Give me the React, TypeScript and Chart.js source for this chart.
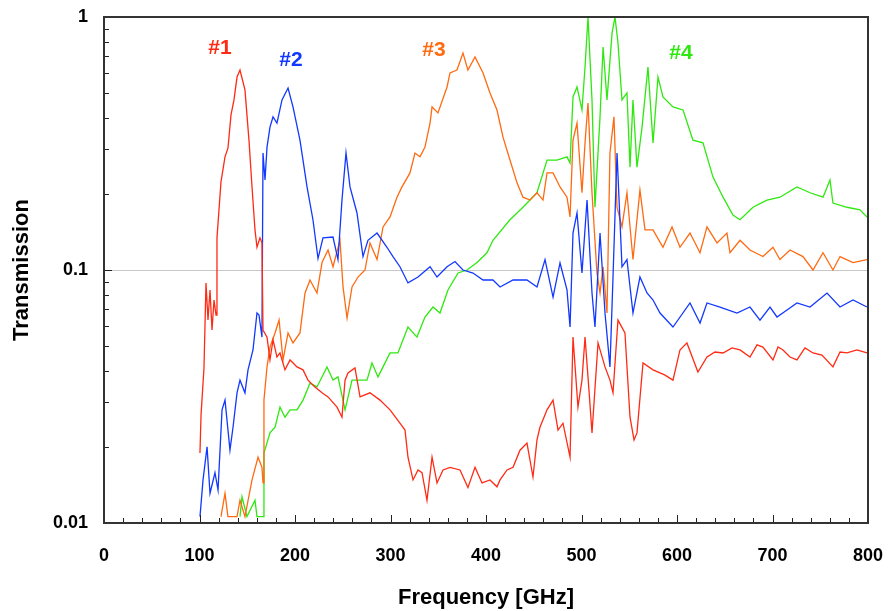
import React, { useEffect, useRef } from "react";
import { Chart, registerables } from "chart.js";

Chart.register(...registerables);

// ---- Data (frequency in GHz, transmission) ----
const s1Freq = [100.5,101.6,104.7,106.8,108.9,111.0,113.1,115.2,117.3,118.3,122.5,126.7,129.8,133.0,136.1,139.3,142.4,144.5,147.6,151.8,155.0,158.1,160.2,163.3,165.4,166.5,170.7,173.8,177.0,181.1,184.3,189.5,194.8,202.1,208.4,213.6,220.9,228.3,234.6,244.0,249.2,252.4,255.5,262.8,268.1,278.5,289.0,299.5,309.9,315.2,318.3,323.6,328.8,333.0,338.2,343.5,348.7,355.0,362.3,372.8,381.1,388.5,395.8,404.2,411.5,414.7,422.0,428.3,435.6,442.9,449.2,453.4,456.5,463.9,470.2,475.4,480.6,488.0,491.1,496.3,500.5,503.7,507.8,511.0,517.3,524.6,529.8,533.0,538.2,545.5,550.8,555.0,558.1,564.4,574.9,587.0,595.8,603.1,610.4,621.9,631.4,639.8,648.2,657.6,666.0,676.4,683.8,690.0,700.5,705.8,711.0,718.3,725.6,734.0,742.4,751.8,763.3,770.7,778.0,788.5,798.9];
const s1Val = [0.0189,0.0267,0.0410,0.0889,0.0634,0.0834,0.0579,0.0761,0.0664,0.134,0.223,0.280,0.303,0.410,0.470,0.579,0.617,0.574,0.515,0.326,0.213,0.144,0.123,0.134,0.128,0.0579,0.0543,0.0441,0.0529,0.0453,0.0470,0.0403,0.0441,0.0414,0.0403,0.0367,0.0345,0.0327,0.0315,0.0287,0.0262,0.0367,0.0392,0.0410,0.0315,0.0327,0.0306,0.0280,0.0248,0.0233,0.0182,0.0148,0.0162,0.0158,0.0123,0.0182,0.0144,0.0162,0.0166,0.0162,0.0138,0.0166,0.0144,0.0148,0.0139,0.0148,0.0162,0.0166,0.0194,0.0207,0.0152,0.0213,0.0239,0.0280,0.0306,0.0233,0.0248,0.0182,0.0543,0.0287,0.0367,0.0543,0.0336,0.0227,0.0515,0.0414,0.0367,0.0327,0.0634,0.0564,0.0262,0.0213,0.0227,0.0429,0.0403,0.0385,0.0367,0.0483,0.0515,0.0395,0.0453,0.0474,0.0470,0.0492,0.0483,0.0453,0.0506,0.0496,0.0441,0.0496,0.0483,0.0453,0.0441,0.0492,0.0470,0.0461,0.0414,0.0474,0.0470,0.0483,0.0470];

const s2Freq = [100.5,103.7,107.9,111.0,116.2,119.4,123.6,126.7,131.9,135.1,139.3,142.4,147.6,150.8,156.0,160.2,162.3,165.4,166.5,168.6,170.7,173.8,177.0,181.1,186.4,192.7,197.9,205.2,212.6,218.8,224.1,229.3,239.8,245.0,249.2,253.4,257.6,264.9,271.2,276.4,285.9,296.3,302.6,309.9,318.3,328.8,341.4,348.7,359.2,367.5,375.9,386.4,396.9,407.3,414.7,428.3,442.9,453.4,461.8,470.2,477.5,484.8,488.0,491.1,495.3,500.5,505.8,511.0,514.1,519.4,524.6,529.8,533.0,537.2,542.4,547.6,553.9,561.2,568.6,574.9,582.2,595.8,613.6,624.1,631.4,645.0,662.8,676.4,686.9,697.4,704.7,715.2,725.6,739.3,757.1,770.7,784.3,798.9];
const s2Val = [0.0106,0.0148,0.0200,0.0131,0.0158,0.0135,0.0280,0.0306,0.0194,0.0239,0.0327,0.0367,0.0327,0.0403,0.0483,0.0676,0.0664,0.0543,0.290,0.227,0.306,0.367,0.403,0.381,0.470,0.524,0.441,0.326,0.213,0.158,0.111,0.134,0.135,0.110,0.189,0.290,0.213,0.168,0.113,0.131,0.140,0.123,0.113,0.103,0.0889,0.0938,0.103,0.0938,0.103,0.108,0.100,0.0973,0.0913,0.0913,0.0857,0.0913,0.0913,0.0857,0.110,0.0782,0.1066,0.0834,0.0595,0.140,0.168,0.0973,0.189,0.0811,0.0595,0.140,0.0676,0.0414,0.0938,0.290,0.103,0.110,0.0676,0.0938,0.0811,0.0761,0.0676,0.0595,0.0741,0.0617,0.0741,0.0714,0.0676,0.0714,0.0634,0.0714,0.0652,0.0695,0.0741,0.0714,0.0811,0.0714,0.0761,0.0714];

const s3Freq = [122.5,126.7,129.8,139.3,142.4,147.6,155.0,161.3,165.4,166.5,167.5,170.7,173.8,179.1,183.3,187.5,192.7,197.9,205.2,210.5,215.7,223.0,228.3,234.6,239.8,247.1,250.3,254.5,259.7,266.0,273.3,278.5,285.9,292.2,299.5,306.8,312.0,320.4,325.6,330.9,336.1,341.4,343.5,349.7,359.2,362.3,369.6,375.9,381.1,388.5,396.9,404.2,411.5,417.8,425.1,432.5,438.7,446.1,453.4,459.7,463.9,470.2,477.5,484.8,488.0,491.1,495.3,500.5,503.7,506.8,511.0,516.2,519.4,522.6,526.7,529.8,534.0,537.2,542.4,547.6,553.9,561.2,566.5,574.9,585.3,594.8,603.1,613.6,624.1,631.4,641.9,652.3,655.5,666.0,676.4,690.0,700.5,707.8,718.3,731.9,742.4,752.9,763.3,770.7,784.3,798.9];
const s3Val = [0.0106,0.0131,0.0106,0.0106,0.0123,0.0106,0.0148,0.0182,0.0166,0.0144,0.0306,0.0414,0.0496,0.0564,0.0634,0.0441,0.0564,0.0515,0.0564,0.0811,0.0913,0.0811,0.107,0.120,0.103,0.131,0.0857,0.0646,0.0857,0.0938,0.100,0.128,0.110,0.148,0.162,0.194,0.213,0.242,0.290,0.280,0.306,0.381,0.441,0.418,0.529,0.601,0.617,0.720,0.617,0.695,0.601,0.501,0.429,0.335,0.272,0.221,0.194,0.189,0.202,0.189,0.242,0.242,0.213,0.194,0.162,0.326,0.381,0.202,0.318,0.457,0.202,0.0973,0.0811,0.103,0.0676,0.290,0.403,0.177,0.148,0.202,0.110,0.207,0.144,0.144,0.123,0.148,0.123,0.140,0.117,0.148,0.128,0.140,0.117,0.131,0.120,0.113,0.123,0.110,0.120,0.113,0.100,0.117,0.100,0.113,0.107,0.110];

const s4Freq = [142.4,144.5,149.7,158.1,160.2,166.5,167.5,173.8,179.1,184.3,189.5,194.8,202.1,208.4,215.7,223.0,233.5,239.8,245.0,252.4,259.7,266.0,275.4,280.6,286.9,292.2,299.5,307.8,318.3,327.7,336.1,344.5,351.8,360.2,370.7,380.1,390.6,401.0,407.3,425.1,438.7,453.4,463.9,474.3,484.8,488.0,491.1,495.3,500.5,503.7,506.8,511.0,514.1,519.4,522.6,526.7,532.0,535.1,538.2,542.4,547.6,550.8,553.9,558.1,563.4,569.6,574.9,580.1,585.3,595.8,606.3,616.7,627.2,637.7,648.2,658.6,666.0,679.6,694.2,707.8,725.6,739.3,752.9,760.2,763.3,778.0,791.6,798.9];
const s4Val = [0.0106,0.0127,0.0106,0.0123,0.0106,0.0106,0.0189,0.0227,0.0239,0.0287,0.0262,0.0280,0.0280,0.0306,0.0357,0.0345,0.0414,0.0367,0.0378,0.0280,0.0367,0.0367,0.0367,0.0429,0.0378,0.0414,0.0470,0.0470,0.0595,0.0543,0.0652,0.0714,0.0676,0.0834,0.0973,0.100,0.107,0.117,0.131,0.158,0.177,0.202,0.272,0.272,0.280,0.265,0.483,0.529,0.429,0.634,1.0,0.470,0.177,0.403,0.761,0.470,0.865,1.0,0.789,0.470,0.501,0.255,0.470,0.255,0.367,0.634,0.318,0.579,0.483,0.441,0.429,0.326,0.318,0.233,0.194,0.165,0.158,0.177,0.189,0.194,0.213,0.202,0.194,0.227,0.184,0.177,0.173,0.162];

const seriesNames = ["#1", "#2", "#3", "#4"];
const seriesColors = ["#ff2a14", "#1238ff", "#ff6a10", "#2ee810"];
// label anchor positions (frequency, transmission)
const labelFreq = [121.5, 195.8, 345.5, 604.2];
const labelVal = [0.754, 0.676, 0.741, 0.721];

const xTickLabels = [0, 100, 200, 300, 400, 500, 600, 700, 800];
const yTickLabels = [0.01, 0.1, 1];
const xTitle = "Frequency [GHz]";
const yTitle = "Transmission";

const FONT = "'Liberation Sans', Arial, sans-serif";

function toPoints(f: number[], v: number[]) {
  return f.map((x, i) => ({ x, y: v[i] }));
}

const framePlugin = {
  id: "framePlugin",
  afterDatasetsDraw(chart: any) {
    const { ctx, chartArea, scales } = chart;
    const xs = scales.x;
    const ys = scales.y;
    ctx.save();
    ctx.strokeStyle = "#222";
    ctx.lineWidth = 1;
    // x ticks (inward)
    for (let f = 0; f <= 800; f += 20) {
      const px = Math.round(xs.getPixelForValue(f)) + 0.5;
      const len = f % 100 === 0 ? 8 : 5;
      ctx.beginPath();
      ctx.moveTo(px, chartArea.bottom);
      ctx.lineTo(px, chartArea.bottom - len);
      ctx.stroke();
    }
    // y ticks (inward, log)
    for (let d = -2; d <= -1; d++) {
      for (let m = 1; m <= 10; m++) {
        const v = m * Math.pow(10, d);
        const py = Math.round(ys.getPixelForValue(v)) + 0.5;
        const len = m === 1 || m === 10 ? 8 : 5;
        ctx.beginPath();
        ctx.moveTo(chartArea.left, py);
        ctx.lineTo(chartArea.left + len, py);
        ctx.stroke();
      }
    }
    // frame
    ctx.lineWidth = 2;
    ctx.strokeStyle = "#333";
    ctx.strokeRect(chartArea.left, chartArea.top, chartArea.right - chartArea.left, chartArea.bottom - chartArea.top);

    // tick labels
    ctx.fillStyle = "#000";
    ctx.font = `bold 18px ${FONT}`;
    ctx.textAlign = "center";
    ctx.textBaseline = "middle";
    xTickLabels.forEach((t) => {
      ctx.fillText(String(t), xs.getPixelForValue(t), chartArea.bottom + 33);
    });
    ctx.textAlign = "right";
    yTickLabels.forEach((t) => {
      ctx.fillText(String(t), chartArea.left - 16, ys.getPixelForValue(t));
    });
    // axis titles
    ctx.font = `bold 22px ${FONT}`;
    ctx.textAlign = "center";
    ctx.fillText(xTitle, (chartArea.left + chartArea.right) / 2, chartArea.bottom + 75);
    ctx.save();
    ctx.translate(chartArea.left - 82, (chartArea.top + chartArea.bottom) / 2);
    ctx.rotate(-Math.PI / 2);
    ctx.fillText(yTitle, 0, 0);
    ctx.restore();

    // series labels
    ctx.font = `bold 21px ${FONT}`;
    ctx.textAlign = "center";
    ctx.textBaseline = "middle";
    seriesNames.forEach((n, i) => {
      ctx.fillStyle = seriesColors[i];
      ctx.fillText(n, xs.getPixelForValue(labelFreq[i]), ys.getPixelForValue(labelVal[i]));
    });
    ctx.restore();
  },
};

export default function App() {
  const ref = useRef<HTMLCanvasElement | null>(null);
  useEffect(() => {
    document.body.style.margin = "0";
    if (!ref.current) return;
    const freqs = [s1Freq, s2Freq, s3Freq, s4Freq];
    const vals = [s1Val, s2Val, s3Val, s4Val];
    const chart = new Chart(ref.current, {
      type: "line",
      data: {
        datasets: seriesNames.map((n, i) => ({
          label: n,
          data: toPoints(freqs[i], vals[i]),
          borderColor: seriesColors[i],
          borderWidth: 1.3,
          pointRadius: 0,
          tension: 0,
          fill: false,
        })),
      },
      options: {
        animation: false,
        responsive: false,
        devicePixelRatio: 1,
        layout: { padding: { left: 0, right: 20, top: 17, bottom: 0 } },
        plugins: { legend: { display: false }, tooltip: { enabled: false } },
        scales: {
          x: {
            type: "linear",
            min: 0,
            max: 800,
            afterFit: (s: any) => { s.height = 88; s.paddingLeft = 0; s.paddingRight = 0; },
            border: { display: false },
            grid: { display: false, drawTicks: false },
            ticks: { display: false, stepSize: 100 },
            title: { display: false },
          },
          y: {
            type: "logarithmic",
            min: 0.01,
            max: 1,
            afterFit: (s: any) => { s.width = 104; s.paddingTop = 0; s.paddingBottom = 0; },
            border: { display: false },
            grid: {
              drawTicks: false,
              lineWidth: 1,
              color: (c: any) => (c.tick && Math.abs(c.tick.value - 0.1) < 1e-9 ? "#c8c8c8" : "rgba(0,0,0,0)"),
            },
            ticks: { display: false, autoSkip: false },
            title: { display: false },
          },
        },
      },
      plugins: [framePlugin],
    } as any);
    return () => chart.destroy();
  }, []);
  return (
    <div style={{ width: 888, height: 611 }}>
      <canvas ref={ref} width={888} height={611} style={{ display: "block" }} />
    </div>
  );
}
